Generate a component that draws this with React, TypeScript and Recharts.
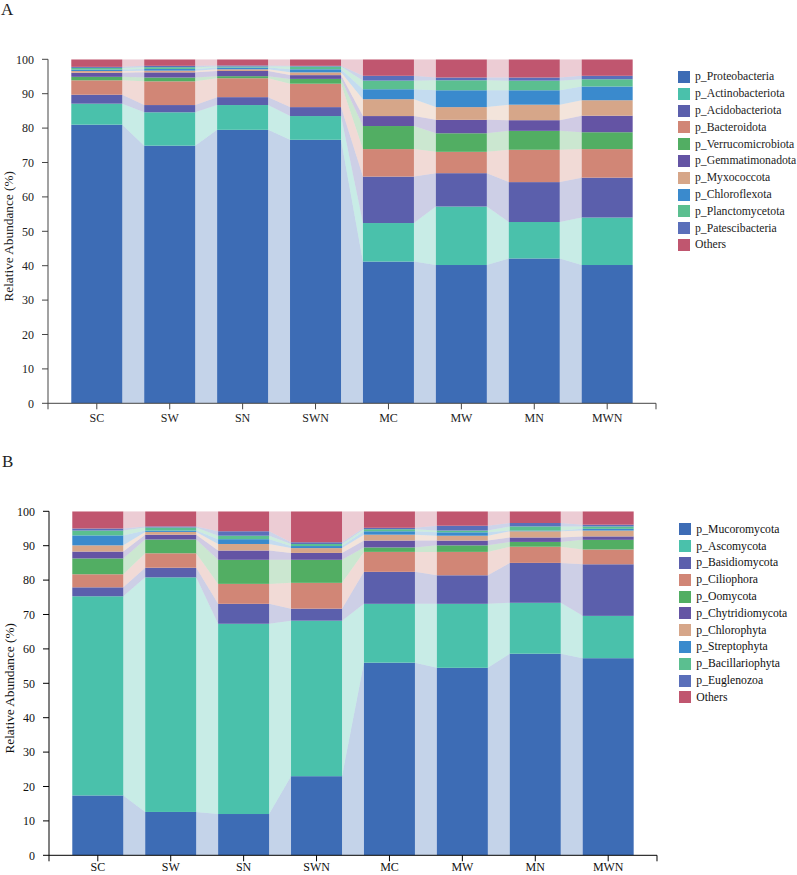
import React from 'react';
import { BarChart, Bar, XAxis, YAxis, Legend } from 'recharts';

const FONT = "'Liberation Serif', 'Times New Roman', Times, serif";

// Sampling sites (x-axis categories)
const sites = ['SC', 'SW', 'SN', 'SWN', 'MC', 'MW', 'MN', 'MWN'];
const yTicks = [0, 10, 20, 30, 40, 50, 60, 70, 80, 90, 100];

// Panel A – bacterial phyla, relative abundance (%)
const proteobacteria = [81.0, 74.9, 79.5, 76.6, 41.2, 40.2, 42.1, 40.2];
const actinobacteriota = [6.1, 9.7, 7.2, 6.9, 11.2, 17.0, 10.6, 13.8];
const acidobacteriota = [2.6, 2.1, 2.3, 2.6, 13.5, 9.7, 11.6, 11.6];
const bacteroidota = [4.2, 6.9, 5.5, 6.8, 8.0, 6.2, 9.4, 8.3];
const verrucomicrobiota = [1.0, 1.1, 0.6, 1.4, 6.7, 5.4, 5.5, 4.9];
const gemmatimonadota = [1.2, 1.5, 1.5, 1.1, 2.9, 3.9, 3.1, 4.8];
const myxococcota = [0.5, 0.5, 0.5, 0.8, 4.9, 3.7, 4.5, 4.5];
const chloroflexota = [0.4, 0.5, 0.5, 0.9, 2.9, 4.9, 4.2, 4.0];
const planctomycetota = [0.5, 0.5, 0.3, 0.8, 2.5, 2.9, 2.8, 2.1];
const patescibacteria = [0.3, 0.4, 0.3, 0.2, 1.4, 0.8, 0.9, 1.0];
const bacteriaOthers = [2.2, 1.9, 1.8, 1.9, 4.8, 5.3, 5.3, 4.8];

// Panel B – eukaryotic phyla, relative abundance (%)
const mucoromycota = [17.4, 12.6, 12.0, 23.0, 56.0, 54.5, 58.6, 57.3];
const ascomycota = [57.9, 68.2, 55.3, 45.2, 17.1, 18.6, 14.8, 12.3];
const basidiomycota = [2.6, 2.8, 5.8, 3.5, 9.3, 8.3, 11.6, 15.0];
const ciliophora = [3.8, 4.2, 5.8, 7.5, 5.8, 6.8, 4.7, 4.3];
const oomycota = [4.6, 4.0, 7.0, 6.7, 1.3, 1.9, 1.4, 2.8];
const chytridiomycota = [2.0, 1.4, 2.7, 2.0, 2.0, 1.4, 1.3, 1.0];
const chlorophyta = [1.8, 0.8, 1.9, 1.4, 1.7, 1.4, 1.8, 1.7];
const streptophyta = [2.9, 0.4, 1.4, 0.6, 1.0, 1.0, 0.2, 0.5];
const bacillariophyta = [1.4, 0.9, 1.0, 0.6, 0.6, 0.5, 1.2, 0.7];
const euglenozoa = [0.6, 0.3, 1.3, 0.5, 0.4, 1.4, 1.0, 0.5];
const eukaryoteOthers = [5.0, 4.4, 5.8, 9.0, 4.8, 4.2, 3.4, 3.9];

const palette = [
  '#3d6cb5',
  '#4ac1ab',
  '#5b5fac',
  '#d18676',
  '#52ae63',
  '#6454a4',
  '#d6a689',
  '#3a8acd',
  '#5bbf90',
  '#5a6fba',
  '#c0566f',
];

type Series = { key: string; name: string; values: number[] };

const bacteriaSeries: Series[] = [
  { key: 'proteobacteria', name: 'p_Proteobacteria', values: proteobacteria },
  { key: 'actinobacteriota', name: 'p_Actinobacteriota', values: actinobacteriota },
  { key: 'acidobacteriota', name: 'p_Acidobacteriota', values: acidobacteriota },
  { key: 'bacteroidota', name: 'p_Bacteroidota', values: bacteroidota },
  { key: 'verrucomicrobiota', name: 'p_Verrucomicrobiota', values: verrucomicrobiota },
  { key: 'gemmatimonadota', name: 'p_Gemmatimonadota', values: gemmatimonadota },
  { key: 'myxococcota', name: 'p_Myxococcota', values: myxococcota },
  { key: 'chloroflexota', name: 'p_Chloroflexota', values: chloroflexota },
  { key: 'planctomycetota', name: 'p_Planctomycetota', values: planctomycetota },
  { key: 'patescibacteria', name: 'p_Patescibacteria', values: patescibacteria },
  { key: 'others', name: 'Others', values: bacteriaOthers },
];

const eukaryoteSeries: Series[] = [
  { key: 'mucoromycota', name: 'p_Mucoromycota', values: mucoromycota },
  { key: 'ascomycota', name: 'p_Ascomycota', values: ascomycota },
  { key: 'basidiomycota', name: 'p_Basidiomycota', values: basidiomycota },
  { key: 'ciliophora', name: 'p_Ciliophora', values: ciliophora },
  { key: 'oomycota', name: 'p_Oomycota', values: oomycota },
  { key: 'chytridiomycota', name: 'p_Chytridiomycota', values: chytridiomycota },
  { key: 'chlorophyta', name: 'p_Chlorophyta', values: chlorophyta },
  { key: 'streptophyta', name: 'p_Streptophyta', values: streptophyta },
  { key: 'bacillariophyta', name: 'p_Bacillariophyta', values: bacillariophyta },
  { key: 'euglenozoa', name: 'p_Euglenozoa', values: euglenozoa },
  { key: 'others', name: 'Others', values: eukaryoteOthers },
];

// Layout
const CHART_W = 797;
const MARGIN_TOP = 59.3;
const PLOT_H = 344;
const X_AXIS_H = 30;
const CHART_H = MARGIN_TOP + PLOT_H + X_AXIS_H;
const Y_AXIS_W = 48;
const PLOT_LEFT = Y_AXIS_W;
const PLOT_RIGHT = 656;
const X_PAD = 12.35;
const TICK_SIZE = 6;
const STEP = (PLOT_RIGHT - PLOT_LEFT - 2 * X_PAD) / sites.length;
const FLOW_OPACITY = 0.3;

const buildRows = (series: Series[]) =>
  sites.map((site, i) => {
    const row: Record<string, string | number> = { site };
    series.forEach((s) => {
      row[s.key] = s.values[i];
    });
    return row;
  });

// value stacked below series `s` at category `i`
const stackBase = (series: Series[], s: number, i: number) => {
  let sum = 0;
  for (let k = 0; k < s; k++) sum += series[k].values[i];
  return sum;
};

// Stacked segment plus the translucent ribbon linking it to the same segment in the next bar
const makeSegmentShape = (series: Series[], s: number, color: string) => (props: any) => {
  const { x, y, width, height, index } = props;
  const v = series[s].values[index];
  const lo = stackBase(series, s, index);
  const k = v > 0 ? height / v : 0;
  const yAt = (val: number) => y + height - (val - lo) * k;
  let ribbon: React.ReactNode = null;
  if (index < sites.length - 1 && k > 0) {
    const lo2 = stackBase(series, s, index + 1);
    const hi2 = lo2 + series[s].values[index + 1];
    const x1 = x + width;
    const x2 = x + STEP;
    ribbon = (
      <polygon
        points={`${x1},${y} ${x2},${yAt(hi2)} ${x2},${yAt(lo2)} ${x1},${y + height}`}
        fill={color}
        fillOpacity={FLOW_OPACITY}
      />
    );
  }
  return (
    <g>
      {ribbon}
      <rect x={x} y={y} width={width} height={height} fill={color} />
    </g>
  );
};

const makeXTick = (stroke: string, textColor: string, tickMargin: number) => (props: any) => {
  const { x, y, payload, index } = props;
  const axisY = y - TICK_SIZE - tickMargin;
  return (
    <g>
      {index === 0 && (
        <line x1={PLOT_LEFT} x2={PLOT_LEFT} y1={axisY} y2={axisY + TICK_SIZE} stroke={stroke} />
      )}
      {index === sites.length - 1 && (
        <line x1={PLOT_RIGHT} x2={PLOT_RIGHT} y1={axisY} y2={axisY + TICK_SIZE} stroke={stroke} />
      )}
      <text x={x} y={y} dy="0.71em" textAnchor="middle" fontSize={12} fontFamily={FONT} fill={textColor}>
        {payload.value}
      </text>
    </g>
  );
};

const yLabel = (textColor: string) => (p: any) => {
  const vb = p.viewBox || { y: MARGIN_TOP, height: PLOT_H };
  const cx = 8;
  const cy = vb.y + vb.height / 2 + 5;
  return (
    <text
      x={cx}
      y={cy}
      transform={`rotate(-90 ${cx} ${cy})`}
      textAnchor="middle"
      dominantBaseline="central"
      fontSize={13.3}
      fontFamily={FONT}
      fill={textColor}
    >
      Relative Abundance (%)
    </text>
  );
};

const legendContent = (series: Series[], textColor: string) => () => (
  <div style={{ fontFamily: FONT, fontSize: 11.7, color: textColor }}>
    {series.map((s, i) => (
      <div key={s.key} style={{ display: 'flex', alignItems: 'center', height: 16.8, whiteSpace: 'nowrap' }}>
        <span
          style={{
            display: 'inline-block',
            width: 12,
            height: 12,
            background: palette[i],
            marginRight: 5,
            flex: 'none',
          }}
        />
        <span>{s.name}</span>
      </div>
    ))}
  </div>
);

type PanelProps = { series: Series[]; axisColor: string; textColor: string; tickMargin: number };

const StackedFlowChart = ({ series, axisColor, textColor, tickMargin }: PanelProps) => {
  const rows = buildRows(series);
  return (
    <BarChart
      width={CHART_W}
      height={CHART_H}
      data={rows}
      margin={{ top: MARGIN_TOP, right: CHART_W - PLOT_RIGHT, bottom: 0, left: 0 }}
      barCategoryGap="15%"
    >
      <XAxis
        dataKey="site"
        height={X_AXIS_H}
        padding={{ left: X_PAD, right: X_PAD }}
        interval={0}
        tickSize={TICK_SIZE}
        tickMargin={tickMargin}
        axisLine={{ stroke: axisColor }}
        tickLine={{ stroke: axisColor }}
        tick={makeXTick(axisColor, textColor, tickMargin)}
      />
      <YAxis
        width={Y_AXIS_W}
        domain={[0, 100]}
        ticks={yTicks}
        allowDataOverflow
        interval={0}
        tickSize={TICK_SIZE}
        tickMargin={8}
        axisLine={{ stroke: axisColor }}
        tickLine={{ stroke: axisColor }}
        tick={{ fontSize: 12, fontFamily: FONT, fill: textColor }}
        label={{ content: yLabel(textColor) }}
      />
      {series.map((s, i) => (
        <Bar
          key={s.key}
          dataKey={s.key}
          name={s.name}
          stackId="abundance"
          fill={palette[i]}
          isAnimationActive={false}
          shape={makeSegmentShape(series, i, palette[i])}
        />
      ))}
      <Legend
        layout="vertical"
        align="center"
        verticalAlign="middle"
        content={legendContent(series, textColor)}
        wrapperStyle={{ left: 678, top: 68.6, width: 119 }}
      />
    </BarChart>
  );
};

const PanelTitle = ({ children }: { children: string }) => (
  <svg width={30} height={24} style={{ position: 'absolute', left: 0, top: 0 }}>
    <text x={1} y={15} fontSize={17} fontFamily={FONT} fill="#222">
      {children}
    </text>
  </svg>
);

export default function App() {
  return (
    <div
      style={{
        position: 'absolute',
        left: 0,
        top: 0,
        width: 797,
        height: 875,
        overflow: 'hidden',
        background: '#fff',
      }}
    >
      <div style={{ position: 'absolute', left: 0, top: 0 }}>
        <StackedFlowChart series={bacteriaSeries} axisColor="#444" textColor="#222" tickMargin={4.5} />
        <PanelTitle>A</PanelTitle>
      </div>
      <div style={{ position: 'absolute', left: 1.3, top: 452.4 }}>
        <StackedFlowChart series={eukaryoteSeries} axisColor="#000" textColor="#111" tickMargin={1} />
        <PanelTitle>B</PanelTitle>
      </div>
    </div>
  );
}
